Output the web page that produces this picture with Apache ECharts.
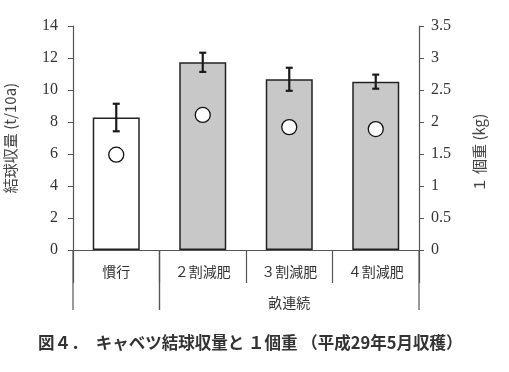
<!DOCTYPE html>
<html><head><meta charset="utf-8">
<script src="https://cdn.jsdelivr.net/npm/echarts@6/dist/echarts.min.js"></script>
<style>html,body{margin:0;padding:0;background:#fff}#c{width:509px;height:372px}</style>
</head><body><div id="c"></div>
<script>
const categories = ['慣行', '２割減肥', '３割減肥', '４割減肥'];
const yieldValues = [8.28, 11.73, 10.67, 10.52];
const yieldErrors = [0.86, 0.6, 0.72, 0.44];
const headWeight = [1.49, 2.11, 1.92, 1.89];
const leftTicks = [0, 2, 4, 6, 8, 10, 12, 14];
const rightTicks = [0, 0.5, 1, 1.5, 2, 2.5, 3, 3.5];
const groups = [{from: 0, to: 0, label: ''}, {from: 1, to: 3, label: '畝連続'}];

const serif = '"Liberation Serif", "DejaVu Serif", serif';
const jp = '"Noto Sans CJK JP", sans-serif';
const axisColor = '#555';

const chart = echarts.init(document.getElementById('c'));
chart.setOption({
  animation: false,
  title: {
    text: '図４．　キャベツ結球収量と １個重 （平成29年5月収穫）',
    left: 33, top: 329,
    textStyle: {fontFamily: jp, fontSize: 16.5, fontWeight: 'bold', color: '#333'}
  },
  grid: {left: 73, right: 90, top: 26, bottom: 122, outerBoundsMode: 'none', containLabel: false},
  xAxis: {
    type: 'category', data: categories,
    axisLine: {lineStyle: {color: axisColor, width: 1.2}},
    axisTick: {show: true, interval: 0, length: 33, inside: false, lineStyle: {color: axisColor, width: 1.2}},
    axisLabel: {interval: 0, margin: 15, fontFamily: jp, fontSize: 14, color: '#333'}
  },
  yAxis: [{
    type: 'value', min: 0, max: 14, interval: 2,
    name: '結球収量 (t/10a)', nameLocation: 'middle', nameGap: 55, nameRotate: 90,
    nameTextStyle: {fontFamily: jp, fontSize: 15, color: '#444'},
    axisLine: {show: true, lineStyle: {color: axisColor, width: 1.2}},
    axisTick: {show: true, length: 5, lineStyle: {color: axisColor}},
    axisLabel: {margin: 15, fontFamily: serif, fontSize: 16, color: '#333',
      formatter: v => leftTicks.includes(v) ? String(v) : ''},
    splitLine: {show: false}
  }, {
    type: 'value', min: 0, max: 3.5, interval: 0.5,
    name: '１ 個重 (kg)　　', nameLocation: 'middle', nameGap: 53, nameRotate: 90,
    nameTextStyle: {fontFamily: jp, fontSize: 15, color: '#444'},
    axisLine: {show: true, lineStyle: {color: axisColor, width: 1.2}},
    axisTick: {show: true, length: 5, lineStyle: {color: axisColor}},
    axisLabel: {margin: 12, fontFamily: serif, fontSize: 16, color: '#333',
      formatter: v => rightTicks.includes(v) ? String(v) : ''},
    splitLine: {show: false}
  }],
  series: [{
    type: 'bar', yAxisIndex: 0, barWidth: 47,
    data: yieldValues.map((v, i) => ({
      value: v,
      itemStyle: {color: i === 0 ? '#ffffff' : '#c8c8c8', borderColor: '#222', borderWidth: 1.5}
    }))
  }, {
    type: 'custom', yAxisIndex: 0, z: 5,
    data: yieldValues.map((v, i) => [i, v - yieldErrors[i], v + yieldErrors[i]]),
    renderItem: (params, api) => {
      const lo = api.coord([api.value(0), api.value(1)]);
      const hi = api.coord([api.value(0), api.value(2)]);
      const w = 3.5;
      const st = {stroke: '#1a1a1a', lineWidth: 2.2};
      return {type: 'group', children: [
        {type: 'line', shape: {x1: lo[0], y1: lo[1], x2: hi[0], y2: hi[1]}, style: st},
        {type: 'line', shape: {x1: lo[0] - w, y1: lo[1], x2: lo[0] + w, y2: lo[1]}, style: st},
        {type: 'line', shape: {x1: hi[0] - w, y1: hi[1], x2: hi[0] + w, y2: hi[1]}, style: st}
      ]};
    }
  }, {
    type: 'scatter', yAxisIndex: 1, z: 6,
    symbol: 'circle', symbolSize: 15,
    itemStyle: {color: '#fff', borderColor: '#111', borderWidth: 1.3, opacity: 1},
    data: headWeight
  }, {
    type: 'custom', yAxisIndex: 0, z: 1, clip: false, silent: true,
    data: groups.map(g => [g.from, g.to, 0]),
    renderItem: (params, api) => {
      const g = groups[params.dataIndex];
      const bw = api.size([1, 0])[0];
      const a = api.coord([api.value(0), 0]);
      const b = api.coord([api.value(1), 0]);
      const x1 = a[0] - bw / 2, x2 = b[0] + bw / 2, y0 = a[1];
      const st = {stroke: axisColor, lineWidth: 1.2};
      const ch = [
        {type: 'line', shape: {x1: x1, y1: y0, x2: x1, y2: y0 + 60}, style: st},
        {type: 'line', shape: {x1: x2, y1: y0, x2: x2, y2: y0 + 60}, style: st}
      ];
      if (g.label) {
        ch.push({type: 'text', style: {text: g.label, x: (x1 + x2) / 2, y: y0 + 53,
          align: 'center', verticalAlign: 'middle', font: '14px ' + jp, fill: '#333'}});
      }
      return {type: 'group', children: ch};
    }
  }]
});
</script></body></html>
